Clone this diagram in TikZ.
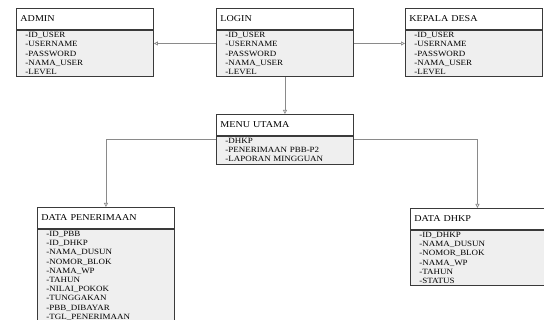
\documentclass[tikz,border=0pt]{standalone}
\usepackage{xcolor}
\usepackage{fontspec}
\setmainfont{Liberation Serif}[FakeStretch=1.12]
\usepackage{tikz}
\usetikzlibrary{positioning, arrows.meta}
\definecolor{boxline}{HTML}{3A3A3A}
\definecolor{boxfill}{HTML}{EFEFEF}
\definecolor{connline}{HTML}{8A8A8A}

\begin{document}
\begin{tikzpicture}[
    x=1pt, y=-1pt,
    classname/.style={rectangle, draw=boxline, fill=white, line width=0.9pt, anchor=north west,
        text width=129pt, inner xsep=4pt, minimum height=21pt, align=left, font=\fontsize{9}{10}\selectfont},
    classattr/.style={rectangle, draw=boxline, fill=boxfill, line width=0.9pt, below=0pt of #1,
        text width=119pt, inner xsep=9pt, inner ysep=2pt, align=left, font=\fontsize{8}{9.2}\selectfont},
    arrow/.style={-{Triangle[open, length=4pt, width=4pt]}, draw=connline, line width=0.7pt}
]
    \clip (0,0) rectangle (544,320);
    \useasboundingbox (0,0) rectangle (544,320);

    % Classes
    \node[classname] (admin) at (16,8) {ADMIN};
    \node[classattr=admin] (adminattr) {-ID\_USER\\-USERNAME\\-PASSWORD\\-NAMA\_USER\\-LEVEL};

    \node[classname] (login) at (216,8) {LOGIN};
    \node[classattr=login] (loginattr) {-ID\_USER\\-USERNAME\\-PASSWORD\\-NAMA\_USER\\-LEVEL};

    \node[classname] (kepala) at (405,8) {KEPALA DESA};
    \node[classattr=kepala] (kepalaattr) {-ID\_USER\\-USERNAME\\-PASSWORD\\-NAMA\_USER\\-LEVEL};

    \node[classname] (menu) at (216,114) {MENU UTAMA};
    \node[classattr=menu] (menuattr) {-DHKP\\-PENERIMAAN PBB-P2\\-LAPORAN MINGGUAN};

    \node[classname] (terima) at (37,207) {DATA PENERIMAAN};
    \node[classattr=terima] (terimaattr) {-ID\_PBB\\-ID\_DHKP\\-NAMA\_DUSUN\\-NOMOR\_BLOK\\-NAMA\_WP\\-TAHUN\\-NILAI\_POKOK\\-TUNGGAKAN\\-PBB\_DIBAYAR\\-TGL\_PENERIMAAN};

    \node[classname, text width=126pt] (dhkp) at (410,208) {DATA DHKP};
    \node[classattr=dhkp, text width=116pt] (dhkpattr) {-ID\_DHKP\\-NAMA\_DUSUN\\-NOMOR\_BLOK\\-NAMA\_WP\\-TAHUN\\-STATUS};

    % Arrows
    \draw[arrow] ([yshift=10pt]loginattr.west) -- ([yshift=10pt]adminattr.east);
    \draw[arrow] ([yshift=10pt]loginattr.east) -- ([yshift=10pt]kepalaattr.west);
    \draw[arrow] (loginattr.south) -- (menu.north);
    \draw[arrow] ([yshift=11pt]menuattr.west) -| (terima.north);
    \draw[arrow] ([yshift=11pt]menuattr.east) -| (dhkp.north);
\end{tikzpicture}
\end{document}
